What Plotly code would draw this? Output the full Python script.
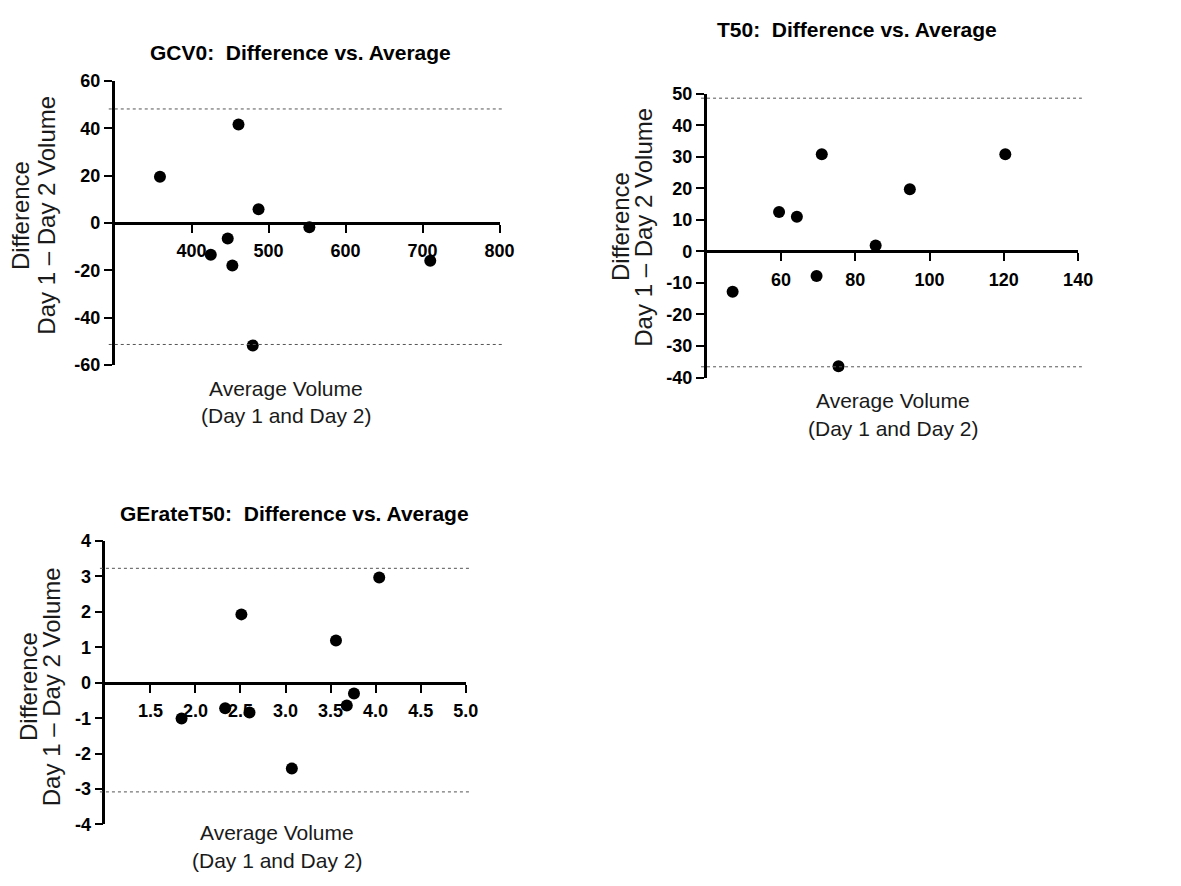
import plotly.graph_objects as go

W, H = 1181, 886

# ---- data ----
gcv0_avg = [359, 461, 487, 553, 447, 425, 453, 710, 479.5]
gcv0_diff = [19.5, 41.6, 5.8, -1.8, -6.6, -13.5, -18, -16, -51.8]
gcv0_limits = [48.2, -51.4]
gcv0_xticks = [400, 500, 600, 700, 800]
gcv0_yticks = [-60, -40, -20, 0, 20, 40, 60]

t50_avg = [47, 59.5, 64.3, 71, 69.6, 75.5, 85.5, 94.7, 120.4]
t50_diff = [-12.8, 12.5, 11, 30.8, -7.8, -36.4, 1.9, 19.7, 30.8]
t50_limits = [48.6, -36.6]
t50_xticks = [60, 80, 100, 120, 140]
t50_yticks = [-40, -30, -20, -10, 0, 10, 20, 30, 40, 50]

ge_avg = [1.846, 2.33, 2.51, 2.60, 3.07, 3.56, 3.68, 3.76, 4.04]
ge_diff = [-1.01, -0.72, 1.93, -0.84, -2.42, 1.19, -0.64, -0.30, 2.97]
ge_limits = [3.23, -3.08]
ge_xticks = [1.5, 2.0, 2.5, 3.0, 3.5, 4.0, 4.5, 5.0]
ge_yticks = [-4, -3, -2, -1, 0, 1, 2, 3, 4]

titles = ["GCV0:  Difference vs. Average", "T50:  Difference vs. Average",
          "GErateT50:  Difference vs. Average"]
xtitle = ["Average Volume", "(Day 1 and Day 2)"]
ytitle = ["Difference", "Day 1 \u2013 Day 2 Volume"]

FONT = "Arial, Liberation Sans, sans-serif"

panels = [
    dict(x=gcv0_avg, y=gcv0_diff, lim=gcv0_limits, xt=gcv0_xticks, yt=gcv0_yticks,
         xr=[300, 800], yr=[-60, 60], dx=[116, 506], dy=[72.7, 363],
         title_xy=(304, 43), xt_xy=(290, 387), yt_xy=(21, 47, 210), xfmt="{:g}"),
    dict(x=t50_avg, y=t50_diff, lim=t50_limits, xt=t50_xticks, yt=t50_yticks,
         xr=[40, 140], yr=[-40, 50], dx=[715.7, 1092], dy=[85.7, 376],
         title_xy=(868, 20), xt_xy=(904, 400), yt_xy=(629, 652, 222), xfmt="{:g}"),
    dict(x=ge_avg, y=ge_diff, lim=ge_limits, xt=ge_xticks, yt=ge_yticks,
         xr=[1, 5], yr=[-4, 4], dx=[106.7, 471.7], dy=[543.3, 833.3],
         title_xy=(298, 515), xt_xy=(281, 842), yt_xy=(29, 52.5, 692), xfmt="{:.1f}"),
]

fig = go.Figure()
layout = dict(width=W, height=H, margin=dict(l=0, r=0, t=0, b=0),
              plot_bgcolor="white", paper_bgcolor="white", showlegend=False,
              shapes=[], annotations=[])

def px(x):
    return x / W

def py(y):
    return 1 - y / H

def ann(text, x, y, size, bold=False, angle=0, color="#1a1a1a"):
    f = dict(family=FONT, size=size, color=color)
    if bold:
        f["weight"] = "bold"
    return dict(text=text, x=px(x), y=py(y), xref="paper", yref="paper",
                showarrow=False, xanchor="center", yanchor="middle",
                textangle=angle, font=f)

for i, p in enumerate(panels, start=1):
    sfx = "" if i == 1 else str(i)
    fig.add_trace(go.Scatter(x=p["x"], y=p["y"], mode="markers",
                             marker=dict(size=12, color="black"),
                             xaxis="x" + sfx, yaxis="y" + sfx, cliponaxis=False))
    ydom = [py(p["dy"][1]), py(p["dy"][0])]
    zero = ydom[0] + (0 - p["yr"][0]) / (p["yr"][1] - p["yr"][0]) * (ydom[1] - ydom[0])
    layout["xaxis" + sfx] = dict(
        domain=[px(p["dx"][0]), px(p["dx"][1])], range=p["xr"], anchor="free",
        position=zero, showline=True, linewidth=2.5, linecolor="black",
        ticks="outside", ticklen=8, tickwidth=2, tickcolor="black",
        ticklabelstandoff=3,
        tickvals=p["xt"], ticktext=[p["xfmt"].format(v) for v in p["xt"]],
        showgrid=False, zeroline=False,
        tickfont=dict(family=FONT, size=18, color="black", weight="bold"))
    layout["yaxis" + sfx] = dict(
        domain=ydom, range=p["yr"], anchor="x" + sfx, showline=True,
        linewidth=2.5, linecolor="black", ticks="outside", ticklen=8,
        tickwidth=2, tickcolor="black", tickvals=p["yt"],
        ticktext=[str(v) for v in p["yt"]], showgrid=False, zeroline=False,
        tickfont=dict(family=FONT, size=18, color="black", weight="bold"))
    for lv in p["lim"]:
        layout["shapes"].append(dict(type="line", xref="x" + sfx + " domain", yref="y" + sfx,
                                     x0=-0.015, x1=1.01, y0=lv, y1=lv,
                                     line=dict(color="#555555", width=1, dash="dot")))
    tx, ty = p["title_xy"]
    layout["annotations"].append(ann(titles[i - 1].replace("  ", "\u00a0 "), tx, ty, 21,
                                     bold=True, color="black"))
    ax, ay = p["xt_xy"]
    layout["annotations"].append(ann(xtitle[0], ax, ay, 21))
    layout["annotations"].append(ann(xtitle[1], ax, ay + 28, 21))
    l1, l2, yc = p["yt_xy"]
    layout["annotations"].append(ann(ytitle[0], l1, yc, 24, angle=-90))
    layout["annotations"].append(ann(ytitle[1], l2, yc, 24, angle=-90))

fig.update_layout(**layout)
post = ("document.documentElement.style.margin='0';document.body.style.margin='0';"
        "document.body.style.overflow='hidden';")
fig.write_html("out.html", post_script=post, config=dict(displayModeBar=False))
